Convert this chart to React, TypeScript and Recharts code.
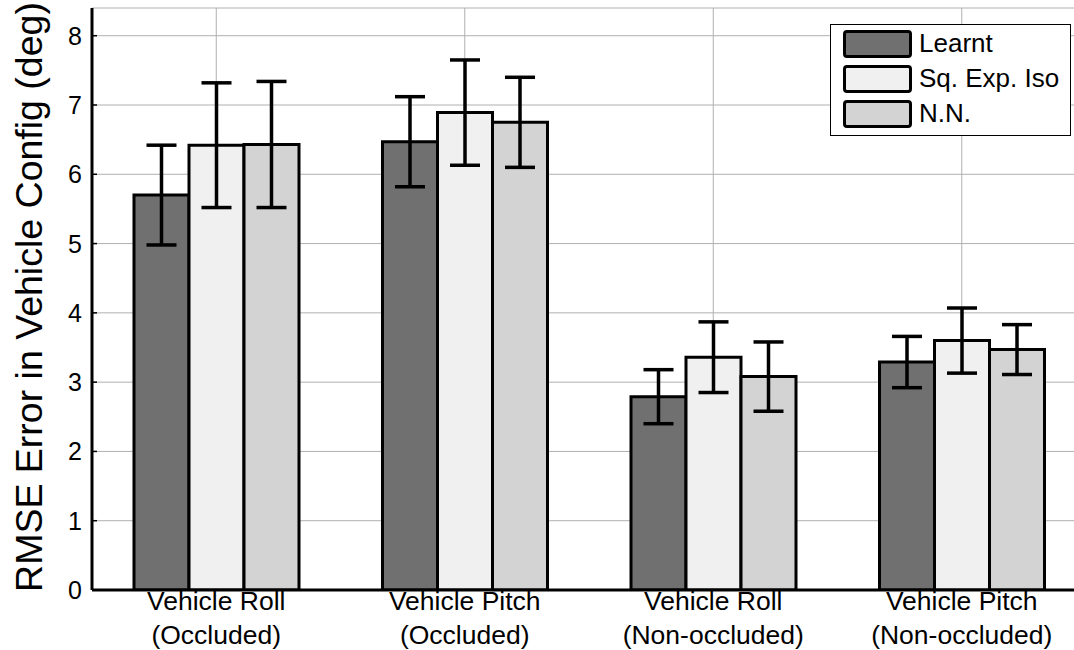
import React from "react";
import {
  BarChart,
  Bar,
  XAxis,
  YAxis,
  CartesianGrid,
  ErrorBar,
  Legend,
} from "recharts";

const categories = [
  ["Vehicle Roll", "(Occluded)"],
  ["Vehicle Pitch", "(Occluded)"],
  ["Vehicle Roll", "(Non-occluded)"],
  ["Vehicle Pitch", "(Non-occluded)"],
];
const learnt = [5.7, 6.47, 2.79, 3.29];
const learntErr = [0.72, 0.65, 0.39, 0.37];
const sqExp = [6.42, 6.89, 3.36, 3.6];
const sqExpErr = [0.9, 0.76, 0.51, 0.47];
const nn = [6.43, 6.75, 3.08, 3.47];
const nnErr = [0.91, 0.65, 0.5, 0.36];
const yTicks = [0, 1, 2, 3, 4, 5, 6, 7, 8];

const seriesNames = ["Learnt", "Sq. Exp. Iso", "N.N."];
const seriesColors = ["#707070", "#f0f0f0", "#d3d3d3"];

const data = categories.map((c, i) => ({
  key: c.join("|"),
  learnt: learnt[i],
  learntErr: learntErr[i],
  sqExp: sqExp[i],
  sqExpErr: sqExpErr[i],
  nn: nn[i],
  nnErr: nnErr[i],
}));

const FONT = "'Liberation Sans', Arial, Helvetica, sans-serif";

const XTick = (props: any) => {
  const { x, y, payload } = props;
  const lines = String(payload.value).split("|");
  return (
    <g>
      <text
        x={x}
        y={y + 20}
        textAnchor="middle"
        fontFamily={FONT}
        fontSize={26.5}
        fill="#000"
      >
        {lines[0]}
      </text>
      <text
        x={x}
        y={y + 53.5}
        textAnchor="middle"
        fontFamily={FONT}
        fontSize={26.5}
        fill="#000"
      >
        {lines[1]}
      </text>
    </g>
  );
};

const TopTick = (props: any) => {
  const { x, y } = props;
  return <line x1={x} x2={x} y1={y - 1} y2={y + 5} stroke="#000" strokeWidth={2} />;
};

const YTick = (props: any) => {
  const { x, y, payload } = props;
  return (
    <g>
      <text
        x={x}
        y={y}
        dy="0.36em"
        textAnchor="end"
        fontFamily={FONT}
        fontSize={25}
        fill="#000"
      >
        {payload.value}
      </text>
      <line x1={x + 10} x2={x + 15} y1={y} y2={y} stroke="#000" strokeWidth={1.5} />
    </g>
  );
};

const YLabel = (props: any) => {
  const vb = props.viewBox || {};
  const cx = (vb.x || 0) + 29;
  const cy = (vb.y || 0) + (vb.height || 0) / 2 - 2;
  return (
    <text
      x={cx}
      y={cy}
      transform={`rotate(-90, ${cx}, ${cy})`}
      textAnchor="middle"
      dominantBaseline="central"
      fontFamily={FONT}
      fontSize={37.5}
      fill="#000"
    >
      RMSE Error in Vehicle Config (deg)
    </text>
  );
};

const LegendBox = () => (
  <div
    style={{
      boxSizing: "border-box",
      width: 241,
      height: 112,
      border: "1px solid #000",
      background: "#fff",
      paddingTop: 1,
      paddingLeft: 12,
      fontFamily: FONT,
      fontSize: 26,
      color: "#000",
    }}
  >
    {seriesNames.map((n, i) => (
      <div
        key={n}
        style={{ display: "flex", alignItems: "center", height: 35 }}
      >
        <div
          style={{
            boxSizing: "border-box",
            width: 69,
            height: 28,
            border: "3px solid #000",
            borderRadius: 4,
            background: seriesColors[i],
            marginRight: 7,
          }}
        />
        <span style={{ lineHeight: "35px", whiteSpace: "nowrap" }}>{n}</span>
      </div>
    ))}
  </div>
);

export default function App() {
  return (
    <div
      style={{
        position: "absolute",
        left: 0,
        top: 0,
        width: 1074,
        height: 650,
        overflow: "hidden",
        background: "#fff",
      }}
    >
      <BarChart
        width={1090}
        height={650}
        data={data}
        margin={{ top: 8, right: 4, bottom: 0, left: 0 }}
        barSize={55}
        barGap={0}
      >
        <CartesianGrid stroke="#b0b0b0" strokeWidth={1} />
        <XAxis
          dataKey="key"
          height={60}
          axisLine={{ stroke: "#000", strokeWidth: 3 }}
          tickLine={false}
          tickSize={0}
          tickMargin={0}
          tick={<XTick />}
          interval={0}
        />
        <XAxis
          xAxisId="top"
          dataKey="key"
          orientation="top"
          height={0}
          axisLine={false}
          tickLine={false}
          tickSize={0}
          tickMargin={0}
          tick={<TopTick />}
          interval={0}
        />
        <YAxis
          width={92}
          domain={[0, 8.4]}
          ticks={yTicks}
          allowDataOverflow
          axisLine={{ stroke: "#000", strokeWidth: 3 }}
          tickLine={false}
          tickSize={0}
          tickMargin={10}
          tick={<YTick />}
          label={<YLabel />}
        />
        <Legend
          layout="vertical"
          align="center"
          verticalAlign="middle"
          wrapperStyle={{ left: 830, top: 24, width: 241, height: 112 }}
          content={<LegendBox />}
        />
        <Bar
          dataKey="learnt"
          name={seriesNames[0]}
          fill={seriesColors[0]}
          stroke="#000"
          strokeWidth={3}
          isAnimationActive={false}
        >
          <ErrorBar dataKey="learntErr" width={15} stroke="#000" strokeWidth={3.5} />
        </Bar>
        <Bar
          dataKey="sqExp"
          name={seriesNames[1]}
          fill={seriesColors[1]}
          stroke="#000"
          strokeWidth={3}
          isAnimationActive={false}
        >
          <ErrorBar dataKey="sqExpErr" width={15} stroke="#000" strokeWidth={3.5} />
        </Bar>
        <Bar
          dataKey="nn"
          name={seriesNames[2]}
          fill={seriesColors[2]}
          stroke="#000"
          strokeWidth={3}
          isAnimationActive={false}
        >
          <ErrorBar dataKey="nnErr" width={15} stroke="#000" strokeWidth={3.5} />
        </Bar>
      </BarChart>
    </div>
  );
}
